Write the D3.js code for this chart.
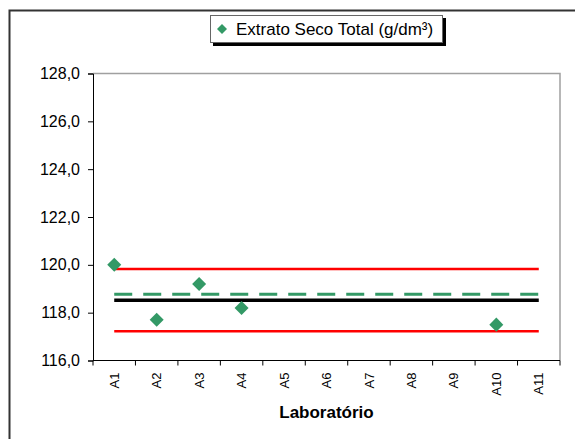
<!DOCTYPE html>
<html>
<head>
<meta charset="utf-8">
<script src="https://cdn.jsdelivr.net/npm/d3@7"></script>
<style>
  body { margin: 0; background: #fff; }
  svg { font-family: "Liberation Sans", Arial, sans-serif; }
</style>
</head>
<body>
<svg id="chart" width="575" height="439"></svg>
<script>
// Chart data
var labs = ["A1", "A2", "A3", "A4", "A5", "A6", "A7", "A8", "A9", "A10", "A11"];
var resultLabs = ["A1", "A2", "A3", "A4", "A10"];
var resultValues = [120.0, 117.7, 119.2, 118.2, 117.5];
var upperLimit = 119.83;
var lowerLimit = 117.22;
var assignedValue = 118.77;   // green dashed
var meanValue = 118.52;       // black
var yTicks = [116, 118, 120, 122, 124, 126, 128];
var legendLabel = "Extrato Seco Total (g/dm³)";
var xTitle = "Laboratório";

var svg = d3.select("#chart");
var m = { left: 93, right: 15, top: 73.5, bottom: 78.5 };
var W = 575, H = 439;

// outer frame
svg.append("rect")
    .attr("x", 9.5).attr("y", 10.5)
    .attr("width", 600).attr("height", 500)
    .attr("fill", "none")
    .attr("stroke", "#333").attr("stroke-width", 2);

var x = d3.scaleBand()
    .domain(labs)
    .range([m.left, W - m.right]);
var y = d3.scaleLinear()
    .domain([116, 128])
    .range([H - m.bottom, m.top]);

// plot area border (top/right gray)
svg.append("path")
    .attr("d", "M" + x.range()[0] + "," + y(128) + "H" + x.range()[1] + "V" + y(116))
    .attr("fill", "none")
    .attr("stroke", "#a0a0a0").attr("stroke-width", 1.5);

// y axis
var yAxis = d3.axisLeft(y)
    .tickValues(yTicks)
    .tickSize(5)
    .tickPadding(8)
    .tickFormat(function (d) { return d3.format(".1f")(d).replace(".", ","); });
var gY = svg.append("g")
    .attr("transform", "translate(" + m.left + ",0)")
    .call(yAxis);
gY.select(".domain").attr("stroke", "#000");
gY.selectAll("text").attr("font-size", 16).attr("fill", "#000")
    .attr("font-family", "Liberation Sans, Arial, sans-serif");

// x axis: ticks between categories
var xBottom = y(116);
var gX = svg.append("g");
gX.append("line")
    .attr("x1", x.range()[0]).attr("x2", x.range()[1])
    .attr("y1", xBottom).attr("y2", xBottom)
    .attr("stroke", "#000");
var edges = labs.map(function (d) { return x(d); }).concat([x.range()[1]]);
gX.selectAll(".tk").data(edges).enter().append("line")
    .attr("x1", function (d) { return d; }).attr("x2", function (d) { return d; })
    .attr("y1", xBottom).attr("y2", xBottom + 5)
    .attr("stroke", "#000");
gX.selectAll(".lb").data(labs).enter().append("text")
    .attr("transform", function (d) {
        return "translate(" + (x(d) + x.bandwidth() / 2) + "," + (xBottom + 12) + ") rotate(-90)";
    })
    .attr("text-anchor", "end")
    .attr("dy", "0.35em")
    .attr("font-size", 13)
    .text(function (d) { return d; });

// x title
svg.append("text")
    .attr("x", (x.range()[0] + x.range()[1]) / 2)
    .attr("y", 418)
    .attr("text-anchor", "middle")
    .attr("font-size", 17)
    .attr("font-weight", "bold")
    .text(xTitle);

var cx = function (d) { return x(d) + x.bandwidth() / 2; };
var x0 = cx(labs[0]), x1 = cx(labs[labs.length - 1]);

function hline(v, color, width, dash) {
    svg.append("line")
        .attr("x1", x0).attr("x2", x1)
        .attr("y1", y(v)).attr("y2", y(v))
        .attr("stroke", color)
        .attr("stroke-width", width)
        .attr("stroke-dasharray", dash || null);
}
hline(upperLimit, "#ff0000", 2.5);
hline(lowerLimit, "#ff0000", 2.5);
hline(meanValue, "#000", 3.5);
hline(assignedValue, "#339966", 3, "18,11");

// points
var diamond = d3.symbol().type(d3.symbolDiamond2).size(125);
svg.selectAll(".pt").data(resultValues).enter().append("path")
    .attr("d", diamond)
    .attr("transform", function (d, i) {
        return "translate(" + cx(resultLabs[i]) + "," + y(d) + ")";
    })
    .attr("fill", "#339966");

// legend
var lg = svg.append("g");
lg.append("rect").attr("x", 213).attr("y", 18).attr("width", 233).attr("height", 28).attr("fill", "#000");
lg.append("rect").attr("x", 210.5).attr("y", 15.5).attr("width", 232).attr("height", 27)
    .attr("fill", "#fff").attr("stroke", "#666").attr("stroke-width", 1);
lg.append("path").attr("d", d3.symbol().type(d3.symbolDiamond2).size(64))
    .attr("transform", "translate(222,29)")
    .attr("fill", "#339966");
lg.append("text").attr("x", 236).attr("y", 29).attr("dy", "0.35em")
    .attr("font-size", 17)
    .text(legendLabel);
</script>
</body>
</html>
